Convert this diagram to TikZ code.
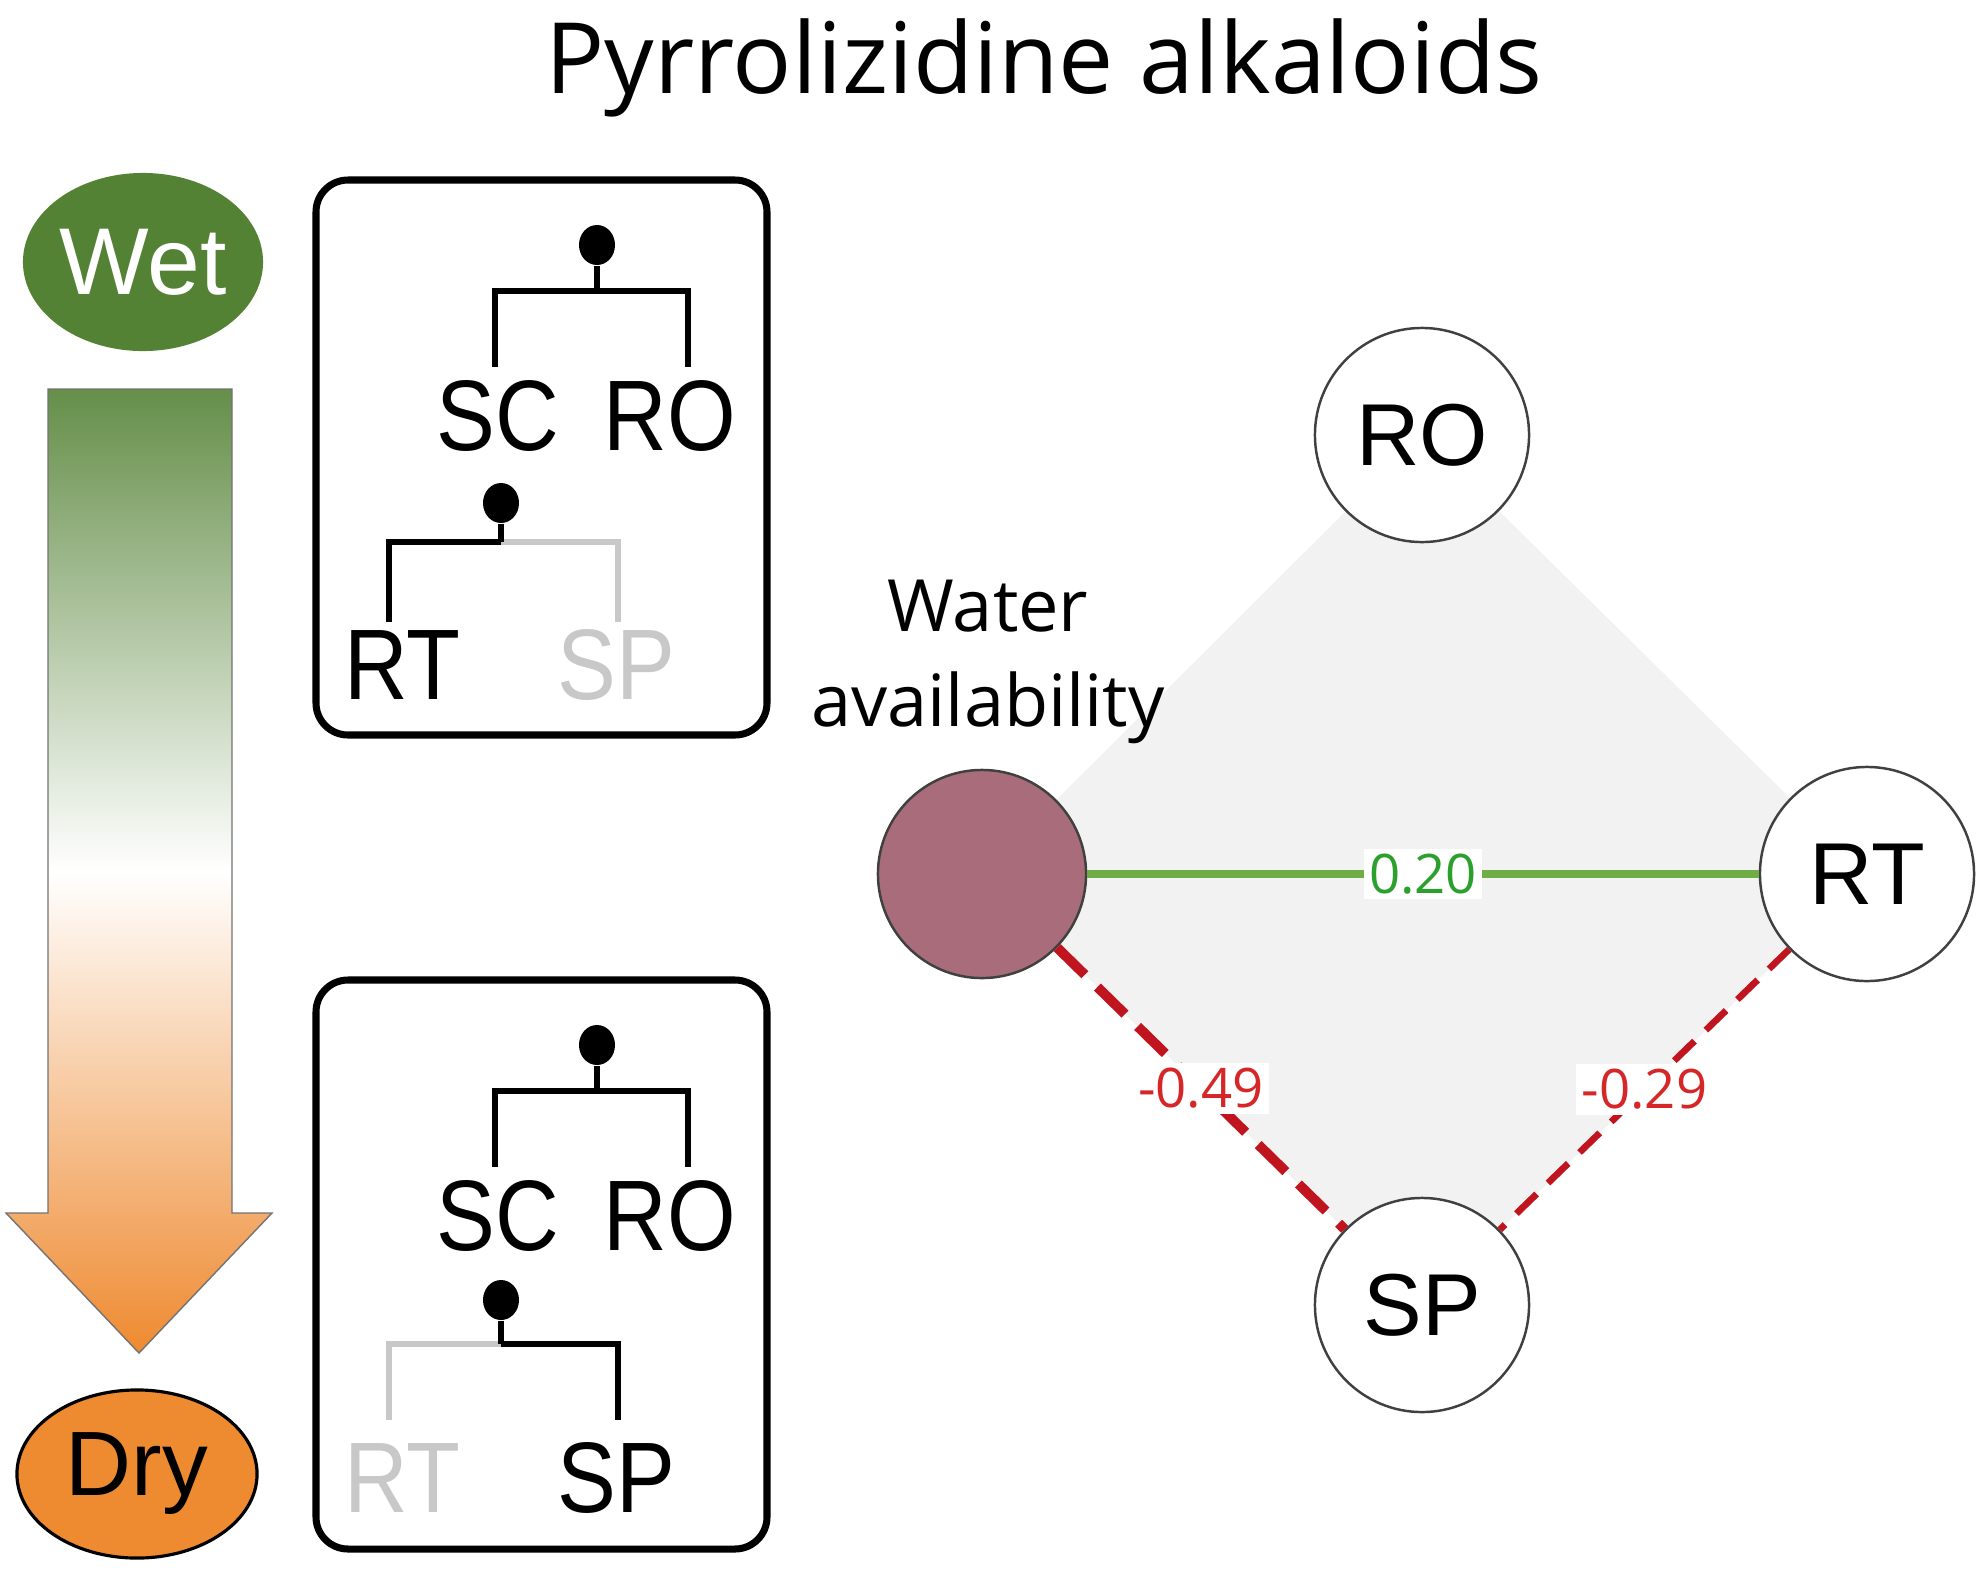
\documentclass[tikz,border=0pt]{standalone}
\usepackage{fontspec}
\usepackage{graphicx}
\setmainfont{Liberation Sans}
\newfontfamily\opensans{Open Sans}
\usetikzlibrary{positioning,shapes.geometric}

\definecolor{wetgreen}{RGB}{84,130,53}
\definecolor{dryorange}{RGB}{238,138,48}
\definecolor{soilpink}{RGB}{168,108,123}
\definecolor{posgreen}{RGB}{112,173,71}
\definecolor{postext}{RGB}{44,160,44}
\definecolor{negred}{RGB}{192,20,30}
\definecolor{negtext}{RGB}{214,39,40}
\definecolor{paleline}{RGB}{200,200,200}
\definecolor{diamondgrey}{RGB}{242,242,242}

\newcommand{\squeeze}[1]{\scalebox{0.88}[1]{#1}}

\begin{document}
\begin{tikzpicture}[x=0.01cm, y=-0.01cm,
  tree/.style={line width=1.9pt},
  faded/.style={line width=1.9pt, paleline},
  knob/.style={ellipse, fill=black, inner sep=0pt, minimum width=0.36cm, minimum height=0.40cm},
  leaf/.style={inner sep=0pt, font=\fontsize{28.5}{30}\selectfont},
  panel/.style={line width=2pt, rounded corners=0.32cm},
  var/.style={circle, draw=black!75, line width=0.7pt, fill=white, minimum size=2.14cm,
    inner sep=0pt, font=\fontsize{25}{27}\selectfont},
  weight/.style={fill=white, inner sep=1.5pt, font=\opensans\fontsize{15.5}{17}\selectfont}]
\useasboundingbox (0,0) rectangle (1987,1584);

% title
\node[anchor=base, font=\opensans\fontsize{28}{30}\selectfont] (title) at (1044,93)
    {Pyrrolizidine alkaloids};

% gradient arrow
\shade[top color=wetgreen!90!white, bottom color=dryorange, middle color=white,
    draw=black!55, line width=0.4pt]
    (48,389) -- (232,389) -- (232,1213) -- (272,1213) -- (139,1353)
    -- (6,1213) -- (48,1213) -- cycle;
\node[ellipse, fill=wetgreen, inner sep=0pt, minimum width=2.40cm, minimum height=1.78cm,
    text=white, font=\fontsize{27}{29}\selectfont] (wet) at (143,262) {Wet};
\node[ellipse, fill=dryorange, draw=black, line width=0.9pt, inner sep=0pt,
    minimum width=2.40cm, minimum height=1.68cm, font=\fontsize{26}{28}\selectfont]
    (dry) at (137,1474) {Dry};

% wet panel
\draw[panel] (316,180) rectangle (767,735);
\node[knob] (k1) at (597,245) {};
\coordinate (j1) at (597,291);
\coordinate (tsc1) at (495,367);
\coordinate (tro1) at (688,367);
\draw[tree] (k1) -- (j1);
\draw[tree] (tsc1) |- (j1) -| (tro1);
\node[leaf] (sc1) at (498,416) {\squeeze{SC}};
\node[leaf] (ro1) at (670,416) {\squeeze{RO}};
\node[knob] (k2) at (501,503) {};
\coordinate (j2) at (501,542);
\coordinate (trt1) at (389,622);
\coordinate (tsp1) at (618,622);
\draw[faded] (j2) -| (tsp1);
\draw[tree] (k2) -- (j2);
\draw[tree] (trt1) |- (j2);
\node[leaf] (rt1) at (402,665) {\squeeze{RT}};
\node[leaf, text=paleline] (sp1) at (616,665) {\squeeze{SP}};

% dry panel
\draw[panel] (316,980) rectangle (767,1549);
\node[knob] (k3) at (597,1045) {};
\coordinate (j3) at (597,1091);
\coordinate (tsc2) at (495,1167);
\coordinate (tro2) at (688,1167);
\draw[tree] (k3) -- (j3);
\draw[tree] (tsc2) |- (j3) -| (tro2);
\node[leaf] (sc2) at (498,1216) {\squeeze{SC}};
\node[leaf] (ro2) at (670,1216) {\squeeze{RO}};
\node[knob] (k4) at (501,1300) {};
\coordinate (j4) at (501,1344);
\coordinate (trt2) at (389,1420);
\coordinate (tsp2) at (618,1420);
\draw[faded] (trt2) |- (j4);
\draw[tree] (k4) -- (j4);
\draw[tree] (j4) -| (tsp2);
\node[leaf, text=paleline] (rt2) at (402,1478) {\squeeze{RT}};
\node[leaf] (sp2) at (616,1478) {\squeeze{SP}};

% network
\coordinate (cro) at (1422,435);
\coordinate (crt) at (1867,874);
\coordinate (csp) at (1422,1305);
\coordinate (cwa) at (982,874);
\fill[diamondgrey] (cro) -- (crt) -- (csp) -- (cwa) -- cycle;
\node[var] (ro) at (cro) {RO};
\node[var] (rt) at (crt) {RT};
\node[var] (sp) at (csp) {SP};
\node[var, fill=soilpink, minimum size=2.08cm] (wa) at (cwa) {};
\node[align=center, font=\opensans\fontsize{20.5}{27}\selectfont] (walabel) at (988,662)
    {Water\\availability};
\draw[posgreen, line width=2.3pt] (wa) -- node[weight, text=postext] {0.20} (rt);
\draw[negred, line width=2.8pt, dash pattern=on 11pt off 5pt] (wa)
    -- node[weight, text=negtext] {-0.49} (sp);
\draw[negred, line width=1.9pt, dash pattern=on 8pt off 4.5pt] (rt)
    -- node[weight, text=negtext] {-0.29} (sp);
\end{tikzpicture}
\end{document}
